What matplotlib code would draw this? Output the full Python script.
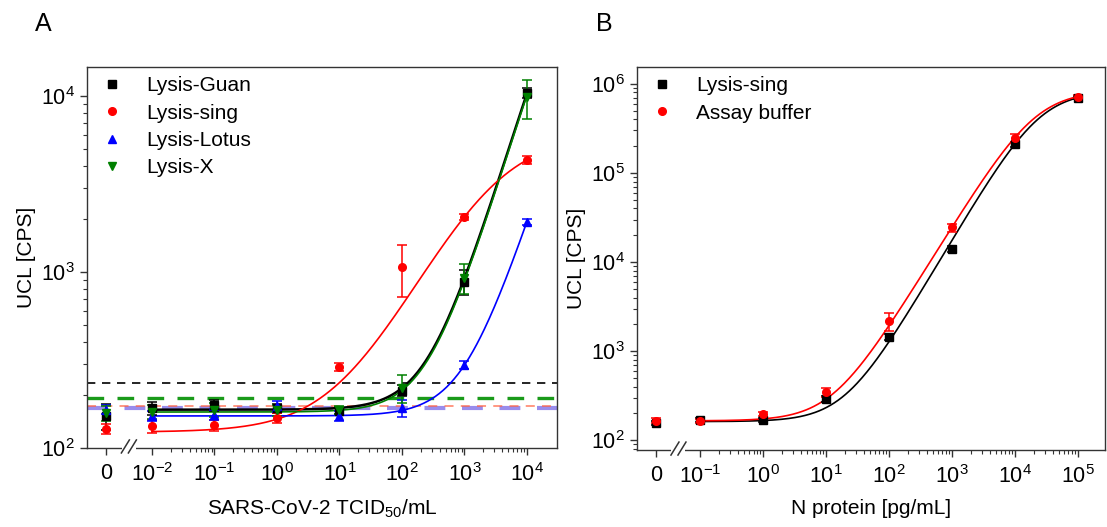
import matplotlib
matplotlib.use('Agg')
import matplotlib.pyplot as plt
from matplotlib.ticker import FixedLocator, NullFormatter, LogLocator
import numpy as np

plt.rcParams['font.family'] = ['Liberation Sans', 'DejaVu Sans']
plt.rcParams['mathtext.fontset'] = 'custom'
plt.rcParams['mathtext.rm'] = 'Liberation Sans'
plt.rcParams['mathtext.it'] = 'Liberation Sans:italic'
plt.rcParams['mathtext.default'] = 'regular'

# ---- Panel A: virus dilution, first entry is the blank (0)
conc_a = [0, 1e-2, 1e-1, 1e0, 1e1, 1e2, 1e3, 1e4]
guan = [152, 168, 175, 168, 163, 212, 880, 10400]
guan_err = [25, 15, 12, 10, 8, 15, 140, 700]
sing = [128, 133, 135, 148, 290, 1070, 2060, 4330]
sing_err = [8, 12, 10, 10, 15, 350, 80, 250]
lotus = [165, 152, 154, 172, 152, 169, 296, 1930]
lotus_err = [10, 10, 10, 12, 10, 19, 15, 80]
lysx = [158, 161, 164, 164, 164, 219, 930, 9900]
lysx_err = [15, 15, 15, 12, 8, 40, 180, 2500]

# limit of detection lines (blank mean + 3 SD)
lod_guan, lod_x, lod_sing, lod_lotus = 234, 193, 172, 168

# 4PL fit parameters: bottom, top, EC50, hill
fit_guan = (165, 2.0e5, 1.27e5, 1.15)
fit_sing = (123, 6070, 2830, 0.7)
fit_lotus = (152, 1.0e5, 3.83e5, 1.1)
fit_x = (160, 2.0e5, 1.30e5, 1.15)

# ---- Panel B: N protein
conc_b = [0, 1e-1, 1e0, 1e1, 1e2, 1e3, 1e4, 1e5]
nsing = [158, 168, 169, 290, 1450, 14000, 210000, 700000]
nsing_err = [8, 8, 8, 20, 100, 1000, 15000, 30000]
buffer = [166, 163, 195, 345, 2200, 24500, 250000, 720000]
buffer_err = [10, 8, 10, 40, 500, 2500, 25000, 30000]

fit_nsing = (162, 8.3e5, 2.46e4, 1.2)
fit_buffer = (165, 8.4e5, 2.11e4, 1.15)

ZERO_A = 10 ** -2.74
ZERO_B = 10 ** -1.70
SPINE = '#333333'


def four_pl(x, p):
    b, t, ec, h = p
    return b + (t - b) / (1 + (ec / x) ** h)


def xpos(conc, zero):
    c = np.array(conc, dtype=float)
    return np.where(c == 0, zero, c)


def series(ax, conc, zero, y, err, fit, color, marker, label, lw=1.2, xr=(1e-2, 1e4)):
    x = xpos(conc, zero)
    xs = np.logspace(np.log10(xr[0]), np.log10(xr[1]), 300)
    ax.plot(xs, four_pl(xs, fit), color=color, lw=lw, zorder=2)
    ax.errorbar(x, y, yerr=err, fmt='none', ecolor=color, elinewidth=1.1,
                capsize=3.5, capthick=1.1, zorder=3)
    ax.plot(x, y, linestyle='none', marker=marker, color=color, ms=5.5,
            label=label, zorder=4)


def style_axis(ax, zero, decades, xlim, ylim):
    ax.set_xscale('log')
    ax.set_yscale('log')
    ax.set_xlim(*xlim)
    ax.set_ylim(*ylim)
    ticks = [zero] + [10.0 ** d for d in decades]
    labels = ['0'] + [r'$10^{%d}$' % d for d in decades]
    ax.xaxis.set_major_locator(FixedLocator(ticks))
    ax.set_xticklabels(labels)
    minors = [m * 10.0 ** d for d in decades[:-1] for m in range(2, 10)]
    ax.xaxis.set_minor_locator(FixedLocator(minors))
    ax.xaxis.set_minor_formatter(NullFormatter())
    ax.yaxis.set_minor_locator(LogLocator(base=10, subs=np.arange(2, 10)))
    ax.yaxis.set_minor_formatter(NullFormatter())
    ax.tick_params(which='major', direction='out', length=5, width=1, labelsize=15.5,
                   color=SPINE)
    ax.tick_params(which='minor', direction='out', length=3, width=0.8, color=SPINE)
    ax.tick_params(axis='x', pad=6)
    for s in ax.spines.values():
        s.set_linewidth(1.0)
        s.set_color(SPINE)
    # axis break "//" drawn in pixel offsets around the gap
    xb = np.sqrt(zero * 10.0 ** decades[0])
    px, py = ax.transData.transform((xb, ylim[0]))
    inv = ax.transData.inverted()

    def seg(p0, p1, **kw):
        a = inv.transform((px + p0[0], py + p0[1]))
        b = inv.transform((px + p1[0], py + p1[1]))
        ax.plot([a[0], b[0]], [a[1], b[1]], clip_on=False, **kw)

    seg((-7, 0), (7, 0), color='white', lw=3, zorder=5, solid_capstyle='butt')
    for dx in (-3.5, 3.5):
        seg((dx - 4, -5), (dx + 4, 8), color=SPINE, lw=1.1, zorder=6)


fig = plt.figure(figsize=(11.07, 5.27), dpi=100)
ax_a = fig.add_axes([0.0786, 0.150, 0.4245, 0.723])
ax_b = fig.add_axes([0.5754, 0.146, 0.4226, 0.727])

# panel A
for yv, c, lw, a in [(lod_guan, 'black', 1.2, 1), (lod_x, '#1a9a1a', 2.4, 1),
                     (lod_lotus, '#8070e8', 3.0, 0.8), (lod_sing, '#ff6040', 1.3, 0.7)]:
    ax_a.axhline(yv, color=c, lw=lw, ls=(0, (5, 4)), alpha=a, zorder=1)

series(ax_a, conc_a, ZERO_A, guan, guan_err, fit_guan, 'black', 's', 'Lysis-Guan', lw=1.8)
series(ax_a, conc_a, ZERO_A, sing, sing_err, fit_sing, 'red', 'o', 'Lysis-sing')
series(ax_a, conc_a, ZERO_A, lotus, lotus_err, fit_lotus, 'blue', '^', 'Lysis-Lotus')
series(ax_a, conc_a, ZERO_A, lysx, lysx_err, fit_x, 'green', 'v', 'Lysis-X')

style_axis(ax_a, ZERO_A, list(range(-2, 5)), (10 ** -3.04, 10 ** 4.48), (100, 10 ** 4.165))
ax_a.set_xlabel(r'SARS-CoV-2 TCID$_{50}$/mL', fontsize=15, labelpad=8)
ax_a.set_ylabel('UCL [CPS]', fontsize=15, labelpad=4)
ax_a.legend(loc='upper left', bbox_to_anchor=(0.0, 1.0), frameon=False, fontsize=15,
            handletextpad=0.9, labelspacing=0.4, borderaxespad=0.05, handlelength=1.5)
fig.text(0.032, 0.955, 'A', fontsize=18, va='center')

# panel B
series(ax_b, conc_b, ZERO_B, nsing, nsing_err, fit_nsing, 'black', 's', 'Lysis-sing',
       xr=(1e-1, 1e5))
series(ax_b, conc_b, ZERO_B, buffer, buffer_err, fit_buffer, 'red', 'o', 'Assay buffer',
       xr=(1e-1, 1e5))

style_axis(ax_b, ZERO_B, list(range(-1, 6)), (10 ** -2.01, 10 ** 5.43), (10 ** 1.89, 10 ** 6.19))
ax_b.set_xlabel('N protein [pg/mL]', fontsize=15, labelpad=8)
ax_b.set_ylabel('UCL [CPS]', fontsize=15, labelpad=4)
ax_b.legend(loc='upper left', bbox_to_anchor=(0.0, 1.0), frameon=False, fontsize=15,
            handletextpad=0.9, labelspacing=0.4, borderaxespad=0.05, handlelength=1.5)
fig.text(0.538, 0.955, 'B', fontsize=18, va='center')

fig.savefig('out.png', dpi=100)
plt.close(fig)
